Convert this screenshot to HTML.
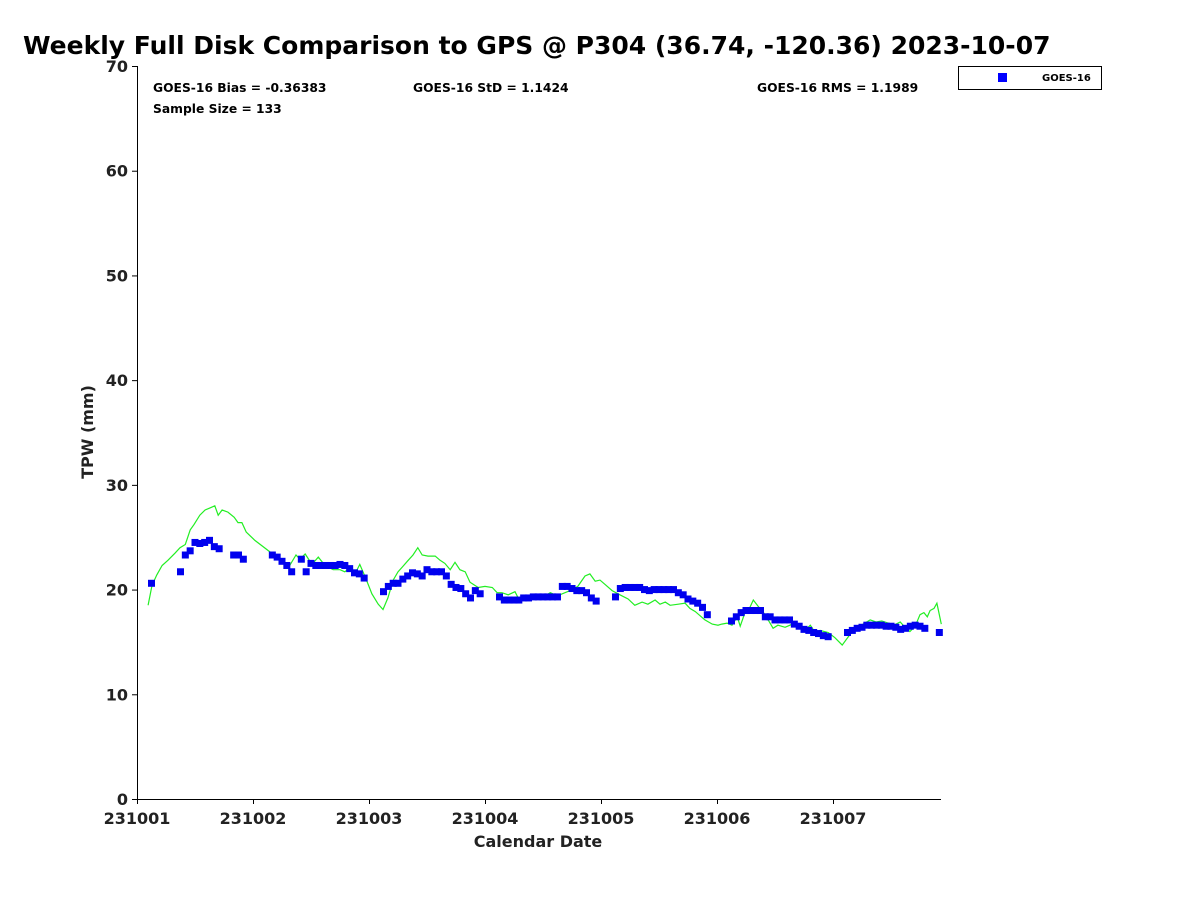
<!DOCTYPE html>
<html><head><meta charset="utf-8"><style>
body{margin:0;background:#fff}
svg text{font-family:"DejaVu Sans","Liberation Sans",sans-serif;font-weight:bold;fill:#222}
</style></head><body>
<svg width="1200" height="900" xmlns="http://www.w3.org/2000/svg">
<text x="23" y="54" font-size="25" style="fill:#000">Weekly Full Disk Comparison to GPS @ P304 (36.74, -120.36) 2023-10-07</text>
<g id="axes"></g>
<g id="marks"></g>
<text x="153" y="92" font-size="12.3" style="fill:#000">GOES-16 Bias = -0.36383</text>
<text x="413" y="92" font-size="12.3" style="fill:#000">GOES-16 StD = 1.1424</text>
<text x="757" y="92" font-size="12.3" style="fill:#000">GOES-16 RMS = 1.1989</text>
<text x="153" y="113" font-size="12.3" style="fill:#000">Sample Size = 133</text>
<g>
<rect x="958.5" y="66.5" width="143" height="23" fill="#fff" stroke="#000"/>
<rect x="998" y="73" width="9" height="9" fill="#0000ff"/>
<text x="1042" y="81" font-size="10" style="fill:#000">GOES-16</text>
</g>
<text x="538" y="847" font-size="16" text-anchor="middle">Calendar Date</text>
<text transform="translate(93,432) rotate(-90)" font-size="16" text-anchor="middle">TPW (mm)</text>
</svg>
<script>
const xTickLabels=["231001","231002","231003","231004","231005","231006","231007"];
const yTicks=[0,10,20,30,40,50,60,70];
const goesHours=[3,9,10,11,12,13,14,15,16,17,20,21,22,28,29,30,31,32,34,35,36,37,38,39,40,41,42,43,44,45,46,47,51,52,53,54,55,56,57,58,59,60,61,62,63,64,65,66,67,68,69,70,71,75,76,77,78,79,80,81,82,83,84,85,86,87,88,89,90,91,92,93,94,95,99,100,101,102,103,104,105,106,107,108,109,110,111,112,113,114,115,116,117,118,123,124,125,126,127,128,129,130,131,132,133,134,135,136,137,138,139,140,141,142,143,147,148,149,150,151,152,153,154,155,156,157,158,159,160,161,162,163,166];
const goesTPW=[20.6,21.7,23.3,23.7,24.5,24.4,24.5,24.7,24.1,23.9,23.3,23.3,22.9,23.3,23.1,22.7,22.3,21.7,22.9,21.7,22.5,22.3,22.3,22.3,22.3,22.3,22.4,22.3,22.0,21.6,21.5,21.1,19.8,20.3,20.6,20.6,21.0,21.3,21.6,21.5,21.3,21.9,21.7,21.7,21.7,21.3,20.5,20.2,20.1,19.6,19.2,19.9,19.6,19.3,19.0,19.0,19.0,19.0,19.2,19.2,19.3,19.3,19.3,19.3,19.3,19.3,20.3,20.3,20.1,19.9,19.9,19.7,19.2,18.9,19.3,20.1,20.2,20.2,20.2,20.2,20.0,19.9,20.0,20.0,20.0,20.0,20.0,19.7,19.5,19.1,18.9,18.7,18.3,17.6,17.0,17.4,17.8,18.0,18.0,18.0,18.0,17.4,17.4,17.1,17.1,17.1,17.1,16.7,16.5,16.2,16.1,15.9,15.8,15.6,15.5,15.9,16.1,16.3,16.4,16.6,16.6,16.6,16.6,16.5,16.5,16.4,16.2,16.3,16.5,16.6,16.5,16.3,15.9];
const gpsHours=[2.3,3.1,4.1,5.2,6.4,7.9,8.9,10.0,11.0,11.8,13.0,14.1,15.1,16.1,16.8,17.6,18.8,20.1,20.9,21.7,22.6,24.4,27.5,29.6,31.6,32.9,33.7,34.8,36.2,37.5,38.9,40.6,42.0,43.0,44.1,45.1,46.1,47.4,48.6,49.9,50.9,51.9,53.0,54.0,55.0,56.1,57.1,58.1,59.0,60.2,61.7,62.7,63.7,64.8,65.8,66.8,67.9,68.9,70.6,72.0,73.5,74.5,75.5,76.8,78.2,79.2,80.9,82.4,83.4,84.4,85.5,86.5,87.5,89.6,91.2,92.7,93.7,94.8,95.8,96.8,98.3,99.9,101.6,103.0,104.5,105.7,107.2,108.2,109.3,110.3,112.0,113.4,114.4,115.5,117.5,119.0,120.2,121.0,122.1,123.1,124.2,124.8,125.8,126.8,127.5,128.5,129.5,130.6,131.6,132.6,134.1,135.1,136.1,137.2,138.2,139.3,140.3,141.3,143.0,144.4,145.9,147.5,149.0,150.2,151.7,152.9,154.1,155.4,156.6,157.9,158.9,159.9,161.0,162.0,162.8,163.5,164.1,164.9,165.5,166.4];
const gpsTPW=[18.5,20.4,21.4,22.3,22.8,23.5,24.0,24.3,25.7,26.2,27.1,27.6,27.8,28.0,27.1,27.6,27.4,26.9,26.4,26.4,25.5,24.7,23.6,22.8,22.3,23.3,22.9,23.4,22.4,23.1,22.3,21.9,21.9,21.7,22.1,21.5,22.4,21.0,19.6,18.6,18.1,19.2,20.9,21.7,22.2,22.8,23.3,24.0,23.3,23.2,23.2,22.8,22.5,21.9,22.6,21.9,21.7,20.7,20.2,20.3,20.2,19.7,19.7,19.5,19.8,18.9,19.1,19.3,19.4,19.4,19.7,19.5,19.5,19.9,20.3,21.3,21.5,20.8,20.9,20.5,19.9,19.5,19.1,18.5,18.8,18.6,19.0,18.6,18.8,18.5,18.6,18.7,18.2,17.9,17.1,16.7,16.6,16.7,16.8,16.6,17.4,16.5,17.8,18.3,19.0,18.4,17.9,17.1,16.3,16.6,16.4,16.6,16.9,16.3,16.1,16.6,15.9,16.1,15.9,15.4,14.7,15.7,16.4,16.7,17.1,16.9,17.0,16.8,16.6,16.9,16.4,16.0,16.5,17.6,17.8,17.4,18.0,18.2,18.7,16.7];
const NS="http://www.w3.org/2000/svg";
const X0=137,X1=941,Y0=799,Y1=66;
const xScale=h=>X0+h*116/24;
const yScale=v=>Y0-(v-0)*(Y0-Y1)/70;
const axes=document.getElementById('axes'),marks=document.getElementById('marks');
function mk(tag,attrs,parent){const e=document.createElementNS(NS,tag);for(const k in attrs)e.setAttribute(k,attrs[k]);parent.appendChild(e);return e;}
let l=mk('line',{x1:X0+.5,y1:Y1,x2:X0+.5,y2:Y0+.5,stroke:'#000'},axes);


l=mk('line',{x1:X0,y1:Y0+.5,x2:X1,y2:Y0+.5,stroke:'#000'},axes);


yTicks.forEach(v=>{const y=yScale(v);
 const t=mk('line',{x1:X0-5,y1:y+.5,x2:X0,y2:y+.5,stroke:'#000'},axes);
 
 
 const tx=mk('text',{x:X0-9,y:y+6,'font-size':16,'text-anchor':'end'},axes);tx.textContent=v;
 
 
});
xTickLabels.forEach((s,i)=>{const x=xScale(i*24);
 const t=mk('line',{x1:x+.5,y1:Y0,x2:x+.5,y2:Y0+5,stroke:'#000'},axes);
 
 
 const tx=mk('text',{x:x,y:Y0+25,'font-size':16,'text-anchor':'middle'},axes);tx.textContent=s;
 
 
});
const pts=gpsHours.map((h,i)=>xScale(h).toFixed(1)+','+yScale(gpsTPW[i]).toFixed(1)).join(' ');
const pl=mk('polyline',{points:pts,fill:'none',stroke:'#22ee22','stroke-width':1.2},marks);


goesHours.forEach((h,i)=>{
 const r=mk('rect',{x:xScale(h)-3.5,y:yScale(goesTPW[i])-3.5,width:7,height:7,fill:'#0000ee'},marks);
 
 
});
</script>
</body></html>
